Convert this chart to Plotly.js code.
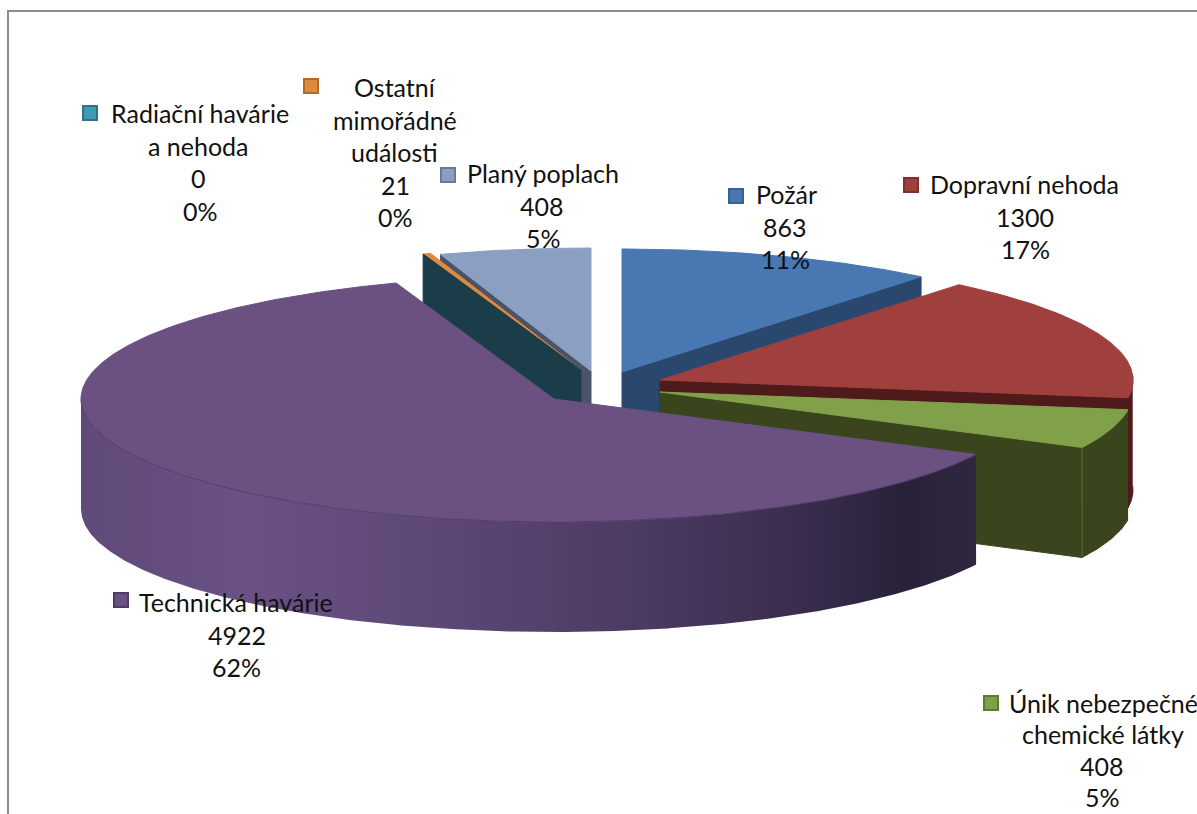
<!DOCTYPE html>
<html><head><meta charset="utf-8">
<script src="https://cdn.plot.ly/plotly-3.0.1.min.js"></script>
<style>html,body{margin:0;padding:0;background:#fff;overflow:hidden}</style>
</head><body><div id="chart" style="width:1197px;height:814px"></div>
<script>
// --- data ---
const categories = ["Požár","Dopravní nehoda","Únik nebezpečné chemické látky","Technická havárie","Radiační havárie a nehoda","Ostatní mimořádné události","Planý poplach"];
const values = [863,1300,408,4922,0,21,408];
const percentLabels = ["11%","17%","5%","62%","0%","0%","5%"];
const nameLines = [["Požár"],["Dopravní nehoda"],["Únik nebezpečné","chemické látky"],["Technická havárie"],["Radiační havárie","a nehoda"],["Ostatní","mimořádné","události"],["Planý poplach"]];

// --- style / layout ---
const topColors  = ["#4877B1","#A0403E","#81A04A","#6A5182","#3F9AB2","#E08A3E","#8A9FC2"];
const wallColors = ["#2A486E","#4F1A1A","#3A451E","#5F4A78","#1A3D49","#8A5522","#4A5468"];
const keyBorders = ["#35608F","#7F2F2D","#5F7A33","#4F3B66","#2C7388","#B26A28","#66799C"];
const apexX = [622,660,660,554,581,581,591];
const apexY = [372,380,392,399,370,370,371];
const labelX = [[786,785,785],[1024,1025,1025],[1103,1103,1102,1102],[236,237,236],[200,198,198,200],[395,395,394,395,395],[543,542,543]];
const labelY = [194,184,703,602,113,87,173];
const lineGaps = [32.5,32.5,31.3,32.5,32.5,32.5,32.5];
const keyX = [736,911,991,121,90,311,448];
const keyY = [196,185,703,600,113,86,175];
const rx = 473, ry = 123, depth = 110;

const total = values.reduce((a,b)=>a+b,0);
let acc = 0;
const startA = [], endA = [];
values.forEach(v=>{ startA.push(acc/total*360); acc+=v; endA.push(acc/total*360); });

const rad = d=>d*Math.PI/180;
const rim = (i,a,dy=0)=>[apexX[i]+rx*Math.sin(rad(a)), apexY[i]-ry*Math.cos(rad(a))+dy];
const arc = (i,a,b,dy=0)=>{ const p=[], n=Math.max(2,Math.ceil(Math.abs(b-a))*2);
  for(let k=0;k<=n;k++) p.push(rim(i,a+(b-a)*k/n,dy)); return p; };
function poly(pts,fill,line,extra){
  return Object.assign({type:'scatter',mode:'lines',x:pts.map(p=>p[0]),y:pts.map(p=>p[1]),
    fill:'toself',fillcolor:fill,line:{color:line||fill,width:1},hoverinfo:'skip',showlegend:false},extra||{});
}
const topFace = i=>poly([[apexX[i],apexY[i]],...arc(i,startA[i],endA[i]),[apexX[i],apexY[i]]],topColors[i]);
const cutWall = (i,a)=>{ const e=rim(i,a); return poly([[apexX[i],apexY[i]],e,[e[0],e[1]+depth],[apexX[i],apexY[i]+depth],[apexX[i],apexY[i]]],wallColors[i]); };
const outerWall = (i,a,b,extra)=>poly([...arc(i,a,b),...arc(i,b,a,depth)],wallColors[i],null,extra);

const [POZ,DOP,UNI,TEC,RAD,OST,PLA]=[0,1,2,3,4,5,6];
const traces = [];
// back to front
traces.push(cutWall(POZ,endA[POZ]), topFace(POZ));
traces.push(outerWall(DOP,88,endA[DOP]), cutWall(DOP,endA[DOP]), topFace(DOP));
traces.push(outerWall(UNI,startA[UNI],endA[UNI]), cutWall(UNI,endA[UNI]), topFace(UNI));
{ const e=rim(UNI,endA[UNI]);
  traces.push({type:'scatter',mode:'lines',x:[e[0],e[0]],y:[e[1],e[1]+depth],line:{color:'#55702C',width:1},hoverinfo:'skip',showlegend:false}); }
traces.push(cutWall(PLA,startA[PLA]), topFace(PLA));
traces.push(topFace(OST));
traces.push(cutWall(RAD,startA[RAD]));
// large slice
traces.push(outerWall(TEC,startA[TEC],270,{
  line:{color:'rgba(0,0,0,0)',width:0},
  fillgradient:{type:'horizontal',colorscale:[[0,'#5F4A78'],[0.18,'#6A5186'],[0.35,'#604A7A'],[0.6,'#4E3C65'],[0.8,'#3A2D4E'],[0.92,'#29213A'],[1,'#30263F']]}
}));
traces.push(topFace(TEC));
{ const p=arc(TEC,startA[TEC],270);
  traces.push({type:'scatter',mode:'lines',x:p.map(q=>q[0]),y:p.map(q=>q[1]),line:{color:'rgba(60,45,80,0.55)',width:1},hoverinfo:'skip',showlegend:false}); }
// legend keys
traces.push({type:'scatter',mode:'markers',x:keyX,y:keyY,text:categories,hoverinfo:'text',showlegend:false,
  marker:{symbol:'square',size:14,color:topColors,line:{color:keyBorders,width:2}}});

// labels
const annotations=[];
categories.forEach((c,i)=>{
  const lines=[...nameLines[i],String(values[i]),percentLabels[i]];
  lines.forEach((t,k)=>annotations.push({xref:'x',yref:'y',x:labelX[i][k],y:labelY[i]+k*lineGaps[i],text:t,showarrow:false,
    xanchor:'center',yanchor:'middle',font:{family:'Lato, Carlito, sans-serif',size:25,color:'#111'}}));
});

const frame={type:'path',xref:'x',yref:'y',path:'M 8 814 L 8 11 L 1197 11',line:{color:'#8C8C8C',width:2},layer:'below'};

Plotly.newPlot('chart',traces,{
  width:1197,height:814,margin:{l:0,r:0,t:0,b:0},paper_bgcolor:'#fff',plot_bgcolor:'#fff',showlegend:false,
  xaxis:{range:[0,1197],visible:false,fixedrange:true},
  yaxis:{range:[814,0],visible:false,fixedrange:true},
  shapes:[frame],annotations
},{displayModeBar:false,staticPlot:true});
</script></body></html>
